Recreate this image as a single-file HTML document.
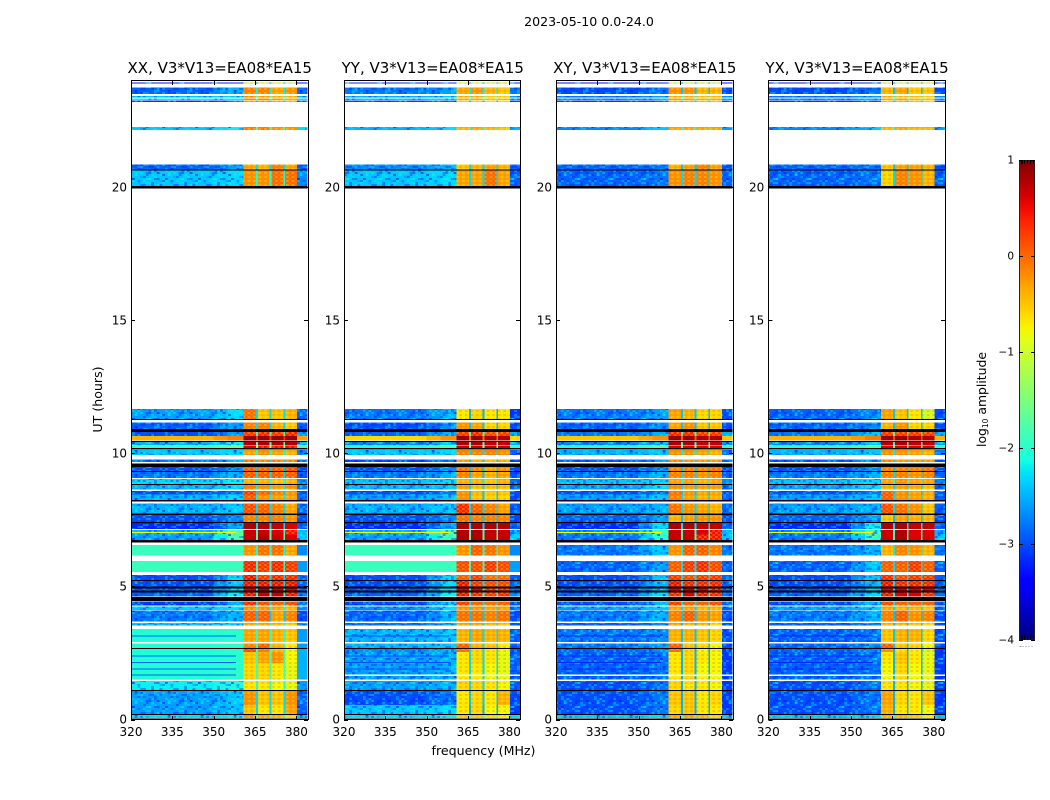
<!DOCTYPE html>
<html lang="en">
<head>
<meta charset="utf-8">
<title>2023-05-10 0.0-24.0 amplitude waterfall</title>
<style>
html,body{margin:0;padding:0;background:#fff;width:1050px;height:800px;overflow:hidden}
svg{display:block}
text{font-family:"DejaVu Sans","Liberation Sans",sans-serif;fill:#000}
rect.cell{shape-rendering:crispEdges}
line{shape-rendering:crispEdges}
</style>
</head>
<body>
<svg id="chart" xmlns="http://www.w3.org/2000/svg" width="1050" height="800" viewBox="0 0 1050 800">
<defs>
<linearGradient id="jet-ramp" x1="0" y1="1" x2="0" y2="0"></linearGradient>
<g id="speck-tile">
<rect x="0" y="0" width="2.75" height="2" fill="#0020ff" opacity=".45"/><rect x="5.5" y="2" width="2.75" height="2" fill="#00ffff" opacity=".4"/>
<rect x="11" y="0" width="2.75" height="2" fill="#00ffff" opacity=".35"/><rect x="16.5" y="4" width="2.75" height="2" fill="#0020ff" opacity=".45"/>
<rect x="22" y="2" width="2.75" height="2" fill="#0020ff" opacity=".4"/><rect x="27.5" y="6" width="2.75" height="2" fill="#00ffff" opacity=".4"/>
<rect x="2.75" y="6" width="2.75" height="2" fill="#00ffff" opacity=".35"/><rect x="8.25" y="8" width="2.75" height="2" fill="#0020ff" opacity=".45"/>
<rect x="13.75" y="10" width="2.75" height="2" fill="#00ffff" opacity=".4"/><rect x="19.25" y="8" width="2.75" height="2" fill="#00e0ff" opacity=".35"/>
<rect x="24.75" y="10" width="2.75" height="2" fill="#0020ff" opacity=".45"/><rect x="30.25" y="12" width="2.75" height="2" fill="#0020ff" opacity=".4"/>
<rect x="0" y="12" width="2.75" height="2" fill="#00ffff" opacity=".35"/><rect x="5.5" y="14" width="2.75" height="2" fill="#0020ff" opacity=".45"/>
<rect x="11" y="16" width="2.75" height="2" fill="#0020ff" opacity=".4"/><rect x="16.5" y="14" width="2.75" height="2" fill="#00ffff" opacity=".4"/>
<rect x="22" y="18" width="2.75" height="2" fill="#00ffff" opacity=".35"/><rect x="27.5" y="16" width="2.75" height="2" fill="#0020ff" opacity=".45"/>
<rect x="2.75" y="20" width="2.75" height="2" fill="#0020ff" opacity=".4"/><rect x="8.25" y="22" width="2.75" height="2" fill="#00ffff" opacity=".4"/>
<rect x="13.75" y="20" width="2.75" height="2" fill="#0020ff" opacity=".45"/><rect x="19.25" y="22" width="2.75" height="2" fill="#0020ff" opacity=".35"/>
<rect x="24.75" y="22" width="2.75" height="2" fill="#00ffff" opacity=".35"/><rect x="30.25" y="20" width="2.75" height="2" fill="#00ffff" opacity=".4"/>
</g>
<pattern id="speckle" patternUnits="userSpaceOnUse" width="33" height="24">
<use href="#speck-tile"/>
<use href="#speck-tile" transform="translate(11,8)"/><use href="#speck-tile" transform="translate(-22,8)"/><use href="#speck-tile" transform="translate(11,-16)"/><use href="#speck-tile" transform="translate(-22,-16)"/>
<use href="#speck-tile" transform="translate(19.25,14)"/><use href="#speck-tile" transform="translate(-13.75,14)"/><use href="#speck-tile" transform="translate(19.25,-10)"/><use href="#speck-tile" transform="translate(-13.75,-10)"/>
</pattern>
<pattern id="band-weave" patternUnits="userSpaceOnUse" width="5.5" height="4">
<rect x="0" y="0" width="2.75" height="2" fill="#ffee00" opacity=".35"/>
<rect x="2.75" y="2" width="2.75" height="2" fill="#ff8a00" opacity=".4"/>
</pattern>
</defs>
<text x="589" y="26" font-size="12.6" text-anchor="middle">2023-05-10 0.0-24.0</text>
<text x="483.5" y="755" font-size="12.6" text-anchor="middle">frequency (MHz)</text>
<text x="0" y="0" font-size="12.6" text-anchor="middle" transform="translate(102,399.5) rotate(-90)">UT (hours)</text>
<text x="0" y="0" font-size="12.4" text-anchor="middle" transform="translate(986,399.5) rotate(-90)">log<tspan font-size="7.5" dy="2">10</tspan><tspan dy="-2"> amplitude</tspan></text>
</svg>
<script>
// Time ranges (UT hours, low to high) of every integration block that holds data.
const rowHours = [[.05,.17],[.21,.55],[.55,1.08],[1.11,1.45],[1.51,2.12],[2.12,2.54],[2.54,2.65],[2.67,2.86],[2.92,3.41],[3.53,3.62],
[3.68,4.09],[4.12,4.24],[4.28,4.44],[4.62,4.77],[4.84,4.93],[4.99,5.21],[5.24,5.43],[5.55,5.96],[6.17,6.55],[6.75,6.95],
[6.95,7.13],[7.16,7.39],[7.43,7.68],[7.75,8.11],[8.25,8.45],[8.45,8.58],[8.65,8.82],[8.85,9.04],[9.08,9.32],[9.35,9.5],
[9.67,9.78],[9.94,10.13],[10.2,10.28],[10.29,10.44],[10.48,10.66],[10.66,10.81],[10.91,11.16],[11.3,11.67],[20.06,20.64],[20.68,20.87],
[22.16,22.27],[23.22,23.27],[23.29,23.35],[23.38,23.44],[23.52,23.76],[23.91,23.95]];

// log10 amplitude per block: [low band, band shoulder, sub-band 1..4, band edge]
const xxValues = [[-2.3,-2.2,-.2,-.3,-.4,-.6,-2.4],[-2.6,-2.4,-.5,-.7,-.7,-.3,-2.9],[-2.6,-2.4,-.2,-.5,-.5,-.2,-2.9],[-2.2,-2.1,-.7,-.7,-.8,-.9,-2.6],[-2.05,-2,-.6,-.6,-.7,-.9,-2.5],[-2.05,-2,-.5,-.3,-.2,-.8,-2.5],[-2.1,-2,.2,-.1,-.5,-.8,-2.5],[-2.05,-2,-.1,.1,-.4,-.7,-2.6],[-2.05,-2,-.3,-.3,-.4,-.5,-2.6],[-2.4,-2.3,-.3,-.3,-.4,-.5,-2.7],
[-2.8,-2.5,.1,.1,-.3,-.1,-3],[-2.4,-2.3,-.2,-.2,-.3,-.4,-2.7],[-3.1,-2.6,.4,.2,.1,.2,-2.9],[-2.9,-2.2,.5,.7,.7,.5,-2.7],[-3,-2.3,.6,.8,.7,.6,-2.8],[-3,-2.4,.5,.5,.5,.5,-2.9],[-3,-2.3,.5,.3,.4,.4,-2.9],[-1.9,-1.9,.4,.3,.4,.3,-2.6],[-1.9,-1.9,-.2,0,0,-.3,-2.7],[-2.6,-1.8,.7,.8,.7,.6,-2.4],
[-2.5,-1.6,.7,.7,.6,.5,-2.5],[-3.2,-2.6,.8,.8,.7,.6,-2.9],[-3,-2.7,-.1,-.1,-.1,-.2,-3],[-2.5,-2.4,.2,.1,-.1,-.3,-2.9],[-2.5,-2.3,.1,-.2,-.3,-.3,-2.8],[-3,-2.8,.3,.1,-.1,-.2,-3],[-2.5,-2.3,-.1,-.2,-.3,-.2,-2.8],[-2.3,-2.2,-.4,-.4,-.5,-.4,-2.7],[-2.8,-2.5,.1,.1,.1,.1,-2.9],[-3,-2.7,.1,.1,.1,.2,-3],
[-2.8,-2.5,0,-.1,-.1,-.1,-2.9],[-2.4,-2.3,-.3,-.2,-.3,-.4,-2.7],[-1.9,-1.5,.6,.5,.5,.5,-1.8],[-2.5,-2.2,.8,.8,.8,.8,-2.4],[-.4,-.1,.9,.9,.9,.9,-.3],[-3,-2.6,.3,.4,.3,.4,-2.6],[-2.9,-2.6,-.1,-.1,-.4,-.5,-2.9],[-2.6,-2.3,0,-.5,-.5,-.4,-2.9],[-2.4,-2.3,-.2,-.2,0,0,-2.7],[-2.9,-2.6,-.3,-.4,-.1,-.3,-2.9],
[-2.4,-2.2,-.1,-.1,-.2,-.2,-2.3],[-3.1,-2.8,-.2,-.2,-.3,-.3,-3],[-2.2,-2.2,-.2,-.2,-.3,-.4,-2.3],[-2.4,-2.3,-.1,-.2,-.3,-.3,-2.5],[-2.9,-2.5,-.1,-.1,-.3,-.2,-2.8],[-3.3,-3.2,-1.2,-1.2,-1.2,-1.2,-3.3]];

const yyValues = [[-2.3,-2.2,-.5,-.5,-.6,-.7,-2.3],[-2.4,-2.3,-.7,-.6,-.8,-.8,-3.1],[-3,-2.8,-.7,-.6,-.7,-.4,-3],[-2.6,-2.5,-.6,-.6,-.7,-.8,-2.9],[-2.6,-2.5,-.7,-.7,-.8,-.9,-2.9],[-2.6,-2.5,-.7,-.6,-.7,-.9,-2.9],[-2.7,-2.5,0,-.6,-.7,-.8,-2.9],[-2.5,-2.4,.1,-.4,-.5,-.7,-2.9],[-2.5,-2.4,-.4,-.3,-.4,-.4,-2.9],[-2.8,-2.5,-.3,-.3,-.4,-.5,-2.9],
[-2.9,-2.5,0,0,-.1,0,-3],[-2.7,-2.3,-.2,-.2,-.3,-.3,-2.9],[-3,-2.4,.3,.1,0,.1,-2.9],[-2.9,-2.2,.5,.4,.3,.4,-2.7],[-3,-2.3,.6,.6,.4,.4,-2.8],[-3,-2.3,.5,.3,.2,.2,-2.9],[-3,-2.3,.1,.3,0,0,-2.9],[-1.9,-1.9,.2,.2,.3,.2,-2.6],[-1.9,-1.9,-.2,.1,0,-.2,-2.7],[-2.6,-1.8,.8,.8,.7,.7,-2.4],
[-2.5,-1.6,.8,.8,.7,.7,-2.5],[-3.2,-2.6,.8,.8,.8,.8,-2.9],[-3,-2.7,0,-.1,-.1,-.1,-3],[-2.5,-2.4,.4,.1,-.1,-.3,-2.9],[-2.6,-2.4,-.2,-.5,-.6,-.6,-3],[-3,-2.8,-.2,-.4,-.5,-.5,-3],[-2.5,-2.4,-.3,-.5,-.5,-.5,-2.9],[-2.4,-2.3,-.4,-.4,-.5,-.4,-2.8],[-2.8,-2.5,-.1,-.3,-.4,-.3,-3],[-3,-2.7,0,-.1,-.3,-.2,-3],
[-3,-2.7,-.2,-.3,-.4,-.3,-3],[-2.4,-2.3,-.1,-.1,-.1,-.2,-2.9],[-2,-1.7,.7,.7,.7,.7,-1.9],[-2.7,-2.4,.8,.8,.7,.7,-2.5],[-.6,-.2,.9,.9,.8,.8,-.6],[-2.9,-2.5,.3,.4,.2,.3,-2.5],[-3,-2.7,-.2,-.3,-.6,-.6,-3],[-2.8,-2.5,-.7,-.6,-.7,-.7,-3.1],[-2.4,-2.3,-.3,-.3,0,-.3,-2.9],[-2.7,-2.5,-.5,-.4,-.3,-.4,-2.9],
[-2.5,-2.3,-.4,-.3,-.4,-.5,-2.6],[-3,-2.8,-.5,-.5,-.6,-.6,-3],[-2.4,-2.3,-.4,-.4,-.5,-.5,-2.5],[-2.5,-2.4,-.3,-.3,-.5,-.5,-2.6],[-2.8,-2.6,-.3,-.2,-.4,-.5,-2.8],[-3.2,-3.1,-1.1,-1.1,-1.2,-1.2,-3.2]];

const xyValues = [[-2.4,-2.3,-.3,-.3,-.4,-.6,-2.4],[-3,-2.8,-.6,-.5,-.7,-.7,-3.1],[-3,-2.8,-.5,-.5,-.7,-.6,-3.1],[-3,-2.8,-.6,-.7,-.7,-.8,-3.1],[-2.9,-2.8,-.7,-.6,-.8,-.8,-3.1],[-2.9,-2.8,-.7,-.6,-.7,-.8,-3.1],[-2.9,-2.7,0,-.6,-.8,-.9,-3.1],[-2.8,-2.6,.1,-.5,-.6,-.8,-3],[-2.8,-2.7,-.4,-.4,-.5,-.6,-3],[-2.9,-2.7,-.3,-.4,-.4,-.6,-3],
[-2.8,-2.5,-.1,.1,-.2,-.3,-3],[-2.6,-2.4,-.3,-.3,-.4,-.4,-2.9],[-3,-2.5,.3,.1,.1,.2,-2.9],[-2.9,-2.3,.4,.6,.5,.4,-2.8],[-3,-2.4,.6,.7,.6,.5,-2.9],[-3,-2.5,.5,.4,.4,.4,-2.9],[-3,-2.4,.3,.2,.3,.3,-2.9],[-2.9,-2.6,.1,.3,.4,.2,-2.9],[-2.8,-2.4,-.2,.1,.1,-.1,-2.8],[-2.8,-2,.7,.7,.5,.5,-2.4],
[-2.7,-1.8,.7,.7,.6,.5,-2.5],[-3.2,-2.3,.8,.8,.7,.7,-2.9],[-2.9,-2.6,-.4,-.3,-.2,-.2,-3],[-2.6,-2.5,0,-.2,-.3,-.4,-2.9],[-2.6,-2.4,-.1,-.3,-.4,-.4,-2.9],[-3,-2.8,0,-.2,-.3,-.3,-3],[-2.6,-2.3,-.2,-.3,-.3,-.3,-2.9],[-2.4,-2.3,-.3,-.3,-.4,-.3,-2.7],[-2.8,-2.5,-.1,-.1,-.2,-.1,-2.9],[-3,-2.7,-.1,-.1,-.1,0,-3],
[-2.9,-2.6,-.1,-.2,-.2,-.2,-2.9],[-2.5,-2.4,-.2,-.2,-.3,-.4,-2.8],[-2,-1.7,.6,.6,.6,.6,-1.9],[-2.7,-2.4,.8,.8,.7,.7,-2.6],[-.5,-.2,.9,.9,.8,.8,-.5],[-2.8,-2.5,.4,.4,.3,.3,-2.5],[-2.9,-2.7,-.3,-.2,-.5,-.5,-3],[-2.8,-2.6,-.3,-.4,-.6,-.6,-3],[-2.9,-2.8,-.2,-.1,-.1,-.2,-2.9],[-2.9,-2.8,-.4,-.3,-.1,-.3,-3],
[-2.7,-2.4,-.3,-.3,-.3,-.3,-2.6],[-3.1,-2.9,-.3,-.3,-.4,-.4,-3],[-2.7,-2.5,-.3,-.3,-.4,-.4,-2.6],[-2.8,-2.6,-.3,-.3,-.4,-.4,-2.7],[-3,-2.8,-.2,-.2,-.4,-.4,-3],[-3.3,-3.2,-1.2,-1.2,-1.2,-1.2,-3.3]];

const yxValues = [[-2.4,-2.3,-.4,-.4,-.5,-.7,-2.4],[-3,-2.8,-.4,-.7,-.7,-.8,-3.1],[-3,-2.8,-.3,-.6,-.7,-.5,-3.1],[-3,-2.8,-.7,-.7,-.8,-.9,-3.1],[-2.9,-2.8,-.8,-.6,-.8,-.9,-3.1],[-2.9,-2.8,-.7,-.5,-.7,-.9,-3.1],[-2.9,-2.7,-.2,-.7,-.8,-1,-3.1],[-2.9,-2.7,.1,-.5,-.6,-.8,-3],[-2.9,-2.8,-.5,-.4,-.4,-.6,-3],[-2.9,-2.7,-.4,-.4,-.5,-.6,-3],
[-2.8,-2.5,-.1,.1,-.2,-.1,-3],[-2.6,-2.4,-.3,-.4,-.4,-.5,-2.9],[-3,-2.5,.2,.1,.1,.1,-2.9],[-2.9,-2.3,.5,.6,.6,.4,-2.8],[-3,-2.4,.6,.7,.6,.6,-2.9],[-3,-2.5,.5,.4,.4,.4,-2.9],[-3,-2.4,.4,.2,.3,.3,-2.9],[-2.9,-2.4,.1,.1,.3,.1,-2.9],[-2.8,-2.5,-.4,-.1,-.2,-.4,-2.8],[-2.8,-1.9,.7,.8,.6,.6,-2.4],
[-2.7,-1.8,.7,.8,.6,.6,-2.5],[-3.2,-2.2,.8,.8,.7,.7,-2.9],[-2.9,-2.6,-.5,-.3,-.4,-.4,-3],[-2.6,-2.5,.2,0,-.2,-.5,-2.9],[-2.6,-2.4,.1,-.2,-.3,-.4,-2.9],[-3,-2.8,.1,-.2,-.3,-.3,-3],[-2.6,-2.3,-.4,-.3,-.4,-.5,-2.9],[-2.4,-2.3,-.3,-.2,-.3,-.3,-2.7],[-2.8,-2.5,-.1,-.1,-.2,-.1,-2.9],[-3,-2.7,-.1,-.1,-.1,0,-3],
[-2.9,-2.6,-.1,-.2,-.2,-.2,-2.9],[-2.5,-2.4,-.2,-.2,-.3,-.4,-2.8],[-2,-1.7,.6,.6,.6,.6,-1.9],[-2.7,-2.4,.8,.8,.7,.7,-2.6],[-.4,-.1,.9,.9,.8,.8,-.4],[-2.8,-2.4,.3,.3,.3,.3,-2.5],[-2.9,-2.7,-.4,-.2,-.6,-.6,-3],[-2.9,-2.7,-.3,-.5,-.7,-1,-3],[-2.9,-2.8,-.6,-.1,-.2,-.4,-2.9],[-2.9,-2.8,-.5,-.3,-.3,-.4,-3],
[-2.7,-2.4,-.4,-.3,-.4,-.4,-2.6],[-3.1,-2.9,-.4,-.3,-.4,-.5,-3],[-2.7,-2.5,-.4,-.3,-.5,-.5,-2.6],[-2.8,-2.6,-.3,-.4,-.4,-.5,-2.7],[-3,-2.8,-.4,-.3,-.5,-.5,-3],[-3.3,-3.2,-1.2,-1.2,-1.3,-1.3,-3.3]];

// Frequency limits (MHz) of the column groups.
const lowBand = [320, 350];
const riseBand = [350, 355];
const shoulderBand = [355, 360.8];
const subBands = [[360.8,365.3],[366,370.3],[370.9,375.3],[375.9,380.2]];
const upperEdgeBand = [380.2, 384];
const notchBands = [[365.3,366],[370.3,370.9],[375.3,375.9]];
const notchLift = 0.6;

// Flagged integrations drawn black (UT hours).
const flaggedHours = [[0,.04],[.18,.21],[1.08,1.11],[2.65,2.68],[4.45,4.6],[4.77,4.84],[4.93,4.99],[5.21,5.24],[6.65,6.75],[7.39,7.43],[7.68,7.75],[8.19,8.25],[8.82,8.85],[9.32,9.35],[9.5,9.63],[10.15,10.2],[10.44,10.47],[10.81,10.91],[11.26,11.3],[19.96,20.06],[20.64,20.68]];

// Narrow single integrations in the low band; null leaves a blank line.
const thinHours = [1.67,1.9,2.14,2.39,3.14,7.02];
const xxThin = [-2.9,-2.9,-2.9,-2.9,-2.9,-.8];
const yyThin = [null,-3,-3,-3,-3,-.8];
const xyThin = [null,-3.2,-3.2,-3.2,-3.2,-.8];
const yxThin = [null,-3.2,-3.2,-3.2,-3.2,-.8];

const panelTitles = ["XX, V3*V13=EA08*EA15","YY, V3*V13=EA08*EA15","XY, V3*V13=EA08*EA15","YX, V3*V13=EA08*EA15"];
const panelIds = ["xx","yy","xy","yx"];
const panelValues = [xxValues,yyValues,xyValues,yxValues];
const panelThin = [xxThin,yyThin,xyThin,yxThin];
const freqTicks = [320,335,350,365,380];
const hourTicks = [0,5,10,15,20];
const colorTicks = [1,0,-1,-2,-3,-4];
const colorMinorFractions = [.1,.2,.3,.5,.7,.9];

const NS = "http://www.w3.org/2000/svg";
const svg = document.getElementById("chart");
const panelLefts = [131,344,556,768.3];
const panelWidth = 176.5, plotTop = 81, plotBottom = 719.5;
const frameLefts = [131,344,556,768];
const frameWidths = [177,176,177,177];
const hourMax = 24, freqMin = 320, freqMax = 384, colorMin = -4, colorMax = 1;
const yScale = h => plotBottom - (h / hourMax) * (plotBottom - plotTop);
const xScale = (f, left) => left + (f - freqMin) / (freqMax - freqMin) * panelWidth;

function jet(v){
  const t = Math.max(0, Math.min(1, (v - colorMin) / (colorMax - colorMin)));
  const seg = (stops) => {
    for (let i = 1; i < stops.length; i++) {
      if (t <= stops[i][0]) {
        const a = stops[i-1], b = stops[i];
        return a[1] + (t - a[0]) / (b[0] - a[0]) * (b[1] - a[1]);
      }
    }
    return stops[stops.length-1][1];
  };
  const r = seg([[0,0],[.35,0],[.66,1],[.89,1],[1,.5]]);
  const g = seg([[0,0],[.125,0],[.375,1],[.64,1],[.91,0],[1,0]]);
  const b = seg([[0,.5],[.11,1],[.34,1],[.65,0],[1,0]]);
  return "rgb(" + Math.round(r*255) + "," + Math.round(g*255) + "," + Math.round(b*255) + ")";
}

function make(tag, attrs, parent){
  const el = document.createElementNS(NS, tag);
  for (const k in attrs) el.setAttribute(k, attrs[k]);
  parent.appendChild(el);
  return el;
}

function cell(group, left, f0, f1, h0, h1, v){
  const x0 = xScale(f0, left), x1 = xScale(f1, left);
  const yTop = yScale(h1), yBot = yScale(h0);
  const r = make("rect", {x:x0, y:yTop, width:x1-x0, height:Math.max(1, yBot-yTop), fill:jet(v), class:"cell"}, group);
  
  
  return r;
}

panelTitles.forEach((title, p) => {
  const left = panelLefts[p];
  const g = make("g", {}, svg);
  
  
  const values = panelValues[p];
  rowHours.forEach((row, i) => {
    const [h0, h1] = row;
    const v = values[i];
    const bg = cell(g, left, lowBand[0], lowBand[1], h0, h1, v[0]);
    cell(g, left, riseBand[0], riseBand[1], h0, h1, (v[0] + v[1]) / 2);
    cell(g, left, shoulderBand[0], shoulderBand[1], h0, h1, v[1]);
    subBands.forEach((b, k) => {
      const c = cell(g, left, b[0], b[1], h0, h1, v[2 + k]);
      if (v[2 + k] < 0.6) {
        const w = make("rect", {x:c.getAttribute("x"), y:c.getAttribute("y"), width:c.getAttribute("width"), height:c.getAttribute("height"), fill:"url(#band-weave)", class:"cell"}, g);
        
        
      }
    });
    notchBands.forEach(b => cell(g, left, b[0], b[1], h0, h1, v[6] + notchLift));
    const edge = cell(g, left, upperEdgeBand[0], upperEdgeBand[1], h0, h1, v[6]);
    if (v[0] <= -2.2) {
      const s = make("rect", {x:bg.getAttribute("x"), y:bg.getAttribute("y"), width:xScale(shoulderBand[1], left) - xScale(lowBand[0], left), height:bg.getAttribute("height"), fill:"url(#speckle)", class:"cell"}, g);
      
      
      const s2 = make("rect", {x:edge.getAttribute("x"), y:edge.getAttribute("y"), width:edge.getAttribute("width"), height:edge.getAttribute("height"), fill:"url(#speckle)", class:"cell"}, g);
      
      
    }
  });
  thinHours.forEach((h, i) => {
    const v = panelThin[p][i];
    const y = yScale(h);
    const r = make("rect", {x:xScale(lowBand[0], left), y:y - .5, width:xScale(v === null ? upperEdgeBand[1] : 358, left) - left, height:v === null ? 1.5 : 1, fill:v === null ? "#fff" : jet(v), class:"cell"}, g);
    
    
  });
  flaggedHours.forEach(b => {
    const yTop = yScale(b[1]), yBot = yScale(b[0]);
    const r = make("rect", {x:left, y:yTop, width:panelWidth, height:Math.max(1, yBot - yTop), fill:"#000", class:"cell"}, g);
    
    
  });

  const frame = make("rect", {x:frameLefts[p] + .5, y:80.5, width:frameWidths[p], height:639, fill:"none", stroke:"#000", "stroke-width":1, "shape-rendering":"crispEdges"}, g);
  
  

  const t = make("text", {x:left + panelWidth / 2 + .5, y:73, "font-size":15, "text-anchor":"middle"}, g);
  t.textContent = title;
  
  

  freqTicks.forEach(f => {
    const x = Math.round(xScale(f, left)) + .5;
    const l1 = make("line", {x1:x, x2:x, y1:720, y2:716, stroke:"#000"}, g);
    
    
    const l2 = make("line", {x1:x, x2:x, y1:81, y2:85, stroke:"#000"}, g);
    
    
    const lab = make("text", {x:xScale(f, left), y:736, "font-size":12, "text-anchor":"middle"}, g);
    lab.textContent = f;
    
    
  });
  hourTicks.forEach(h => {
    const y = Math.round(yScale(h)) + .5;
    const l1 = make("line", {x1:left, x2:left + 4, y1:y, y2:y, stroke:"#000"}, g);
    
    
    const l2 = make("line", {x1:frameLefts[p] + frameWidths[p], x2:frameLefts[p] + frameWidths[p] - 4, y1:y, y2:y, stroke:"#000"}, g);
    
    
    const lab = make("text", {x:left - 4, y:yScale(h) + 4, "font-size":12, "text-anchor":"end"}, g);
    lab.textContent = h;
    
    
  });
});

// Colorbar
const cbX = 1019, cbW = 16, cbTop = 160, cbBottom = 640;
const cScale = v => cbBottom - (v - colorMin) / (colorMax - colorMin) * (cbBottom - cbTop);
const grad = document.getElementById("jet-ramp");
for (let i = 0; i <= 40; i++) {
  make("stop", {offset:(i / 40), "stop-color":jet(colorMin + (colorMax - colorMin) * i / 40)}, grad);
}
const cb = make("g", {}, svg);


const ramp = make("rect", {x:cbX + .5, y:cbTop + .5, width:cbW - 1, height:cbBottom - cbTop - 1, fill:"url(#jet-ramp)", stroke:"#222", "shape-rendering":"crispEdges"}, cb);


colorTicks.forEach(v => {
  const y = Math.round(cScale(v)) + .5;
  const a = make("line", {x1:cbX, x2:cbX + 4, y1:y, y2:y, stroke:"#000"}, cb);
  
  
  const b = make("line", {x1:cbX + cbW, x2:cbX + cbW - 4, y1:y, y2:y, stroke:"#000"}, cb);
  
  
  const lab = make("text", {x:cbX - 5, y:cScale(v) + 3.5, "font-size":10.5, "text-anchor":"end"}, cb);
  lab.textContent = v < 0 ? "\u2212" + Math.abs(v) : String(v);
  
  
});
colorMinorFractions.forEach(fr => {
  const x = Math.round(cbX + fr * cbW) + .5;
  const a = make("line", {x1:x, x2:x, y1:cbTop, y2:cbTop + 4, stroke:"#000"}, cb);
  
  
  const b = make("line", {x1:x, x2:x, y1:cbBottom, y2:cbBottom - 4, stroke:"#000"}, cb);
  
  
  const d = make("rect", {x:x - 2, y:646, width:1, height:1, fill:"#999", class:"cell"}, cb);
  
  
});
</script>
</body>
</html>
